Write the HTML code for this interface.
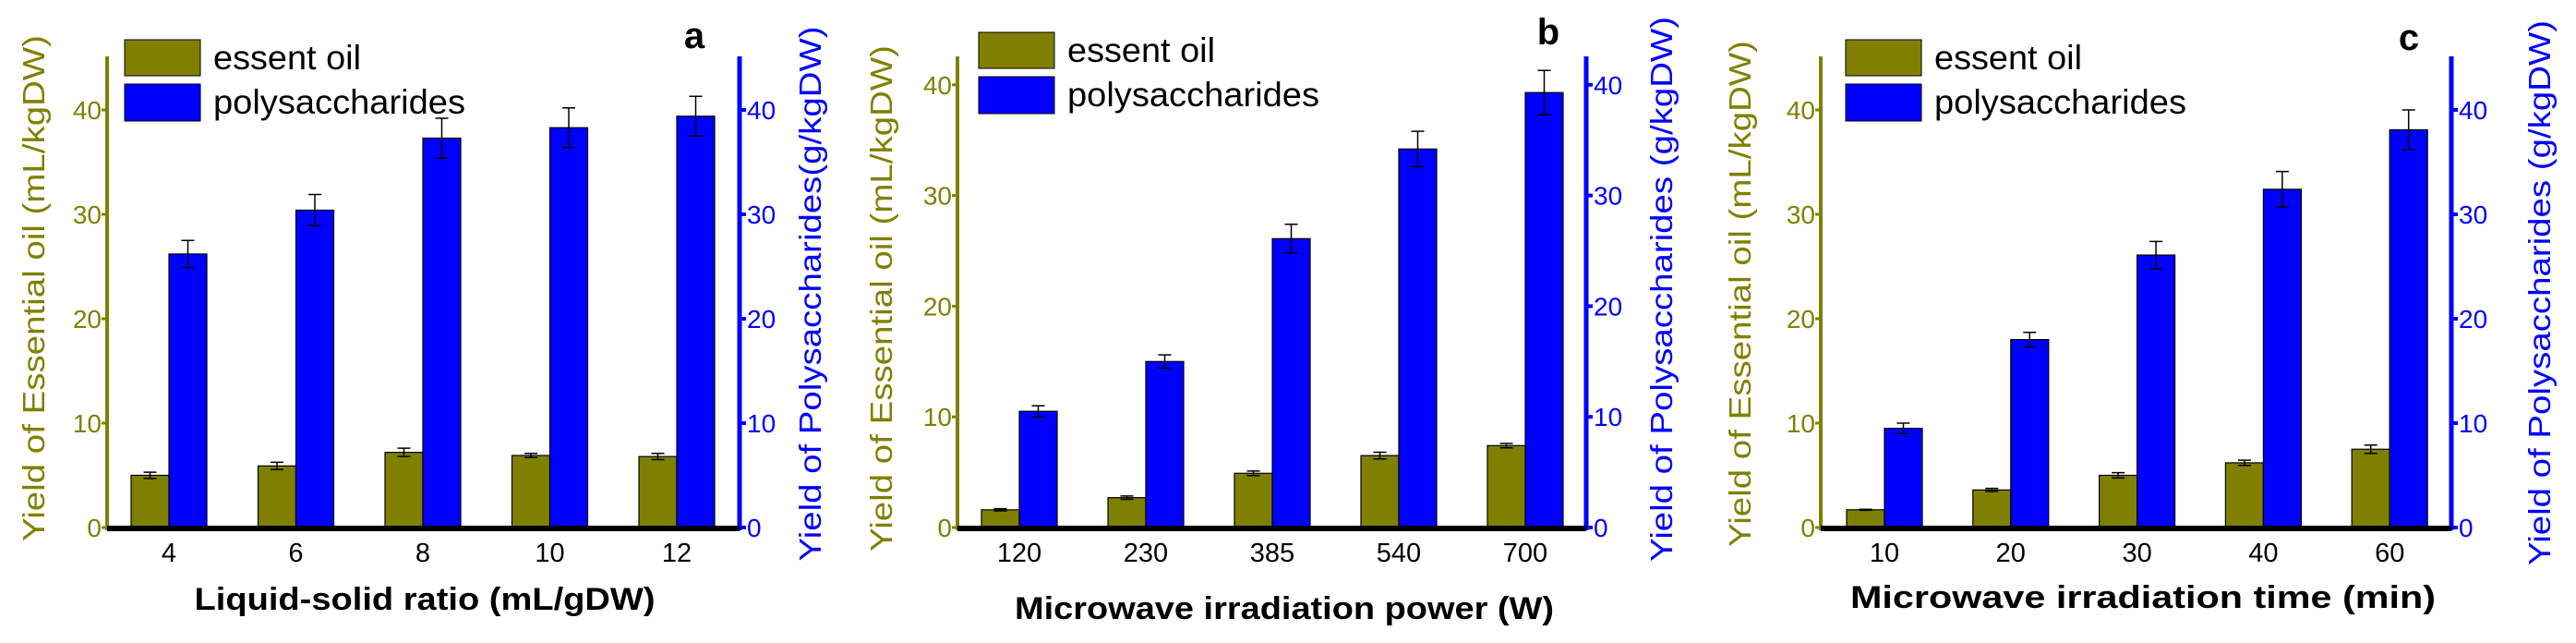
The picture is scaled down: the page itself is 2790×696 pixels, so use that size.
<!DOCTYPE html>
<html><head><meta charset="utf-8"><style>
html,body{margin:0;padding:0;background:#fff;}
svg{display:block;font-family:"Liberation Sans",Arial,sans-serif;}
</style></head><body>
<svg id="fig" width="2790" height="696" viewBox="0 0 2790 696" xmlns="http://www.w3.org/2000/svg"></svg>
<script>
const catsA=["4","6","8","10","12"];
const oilA=[5.0,5.9,7.2,6.9,6.8];
const oilErrA=[0.3,0.35,0.4,0.2,0.3];
const polyA=[26.2,30.4,37.3,38.3,39.4];
const polyErrA=[1.3,1.5,1.9,1.9,1.9];

const catsB=["120","230","385","540","700"];
const oilB=[1.6,2.7,4.9,6.5,7.4];
const oilErrB=[0.1,0.15,0.2,0.3,0.2];
const polyB=[10.5,15.0,26.1,34.2,39.3];
const polyErrB=[0.5,0.6,1.3,1.6,2.0];

const catsC=["10","20","30","40","60"];
const oilC=[1.7,3.6,5.0,6.2,7.5];
const oilErrC=[0.05,0.15,0.25,0.25,0.4];
const polyC=[9.5,18.0,26.1,32.4,38.1];
const polyErrC=[0.5,0.7,1.3,1.7,1.9];

const yTicks=[0,10,20,30,40];

const NS="http://www.w3.org/2000/svg";
const svg=document.getElementById("fig");
function mk(tag,attrs,parent){const e=document.createElementNS(NS,tag);for(const k in attrs)e.setAttribute(k,attrs[k]);(parent||svg).appendChild(e);return e;}

const OLIVE="#808000",BLUE="#0000ff";

function panel(p){
  const g=mk("g",{});
  
  
  const y=v=>p.zero-v*p.unit;
  // bars
  p.cats.forEach((c,i)=>{
    const cx=p.c0+i*p.step;
    const ob=mk("rect",{x:cx-p.bw,y:y(p.oil[i]),width:p.bw,height:p.oil[i]*p.unit,fill:OLIVE,stroke:"#000","stroke-width":1.2},g);
    
    
    const pb=mk("rect",{x:cx,y:y(p.poly[i]),width:p.bw,height:p.poly[i]*p.unit,fill:BLUE,stroke:"#000","stroke-width":1.2},g);
    
    
    [[cx-p.bw/2,p.oil[i],p.oilErr[i]],[cx+p.bw/2,p.poly[i],p.polyErr[i]]].forEach(([ex,v,e])=>{
      const eg=mk("path",{d:`M${ex},${y(v+e)}V${y(v-e)}M${ex-7},${y(v+e)}H${ex+7}M${ex-7},${y(v-e)}H${ex+7}`,stroke:"#000","stroke-width":1.5,fill:"none"},g);
      
      
    });
    const t=mk("text",{x:cx,y:608,"font-size":29,"text-anchor":"middle",fill:"#000"},g);
    t.textContent=c;
    
    
  });
  // axes
  const la=mk("line",{x1:p.lx,y1:61,x2:p.lx,y2:p.zero+3,stroke:OLIVE,"stroke-width":4},g);
  
  
  const ra=mk("line",{x1:p.rx,y1:61,x2:p.rx,y2:p.zero+3,stroke:BLUE,"stroke-width":5},g);
  
  
  const xa=mk("line",{x1:p.lx,y1:p.zero+1,x2:p.rx,y2:p.zero+1,stroke:"#000","stroke-width":6},g);
  
  
  yTicks.forEach(v=>{
    mk("line",{x1:p.lx-6,y1:y(v),x2:p.lx,y2:y(v),stroke:OLIVE,"stroke-width":3},g);
    mk("line",{x1:p.rx,y1:y(v),x2:p.rx+7,y2:y(v),stroke:BLUE,"stroke-width":4},g);
    const lt=mk("text",{x:p.lx-6,y:y(v)+10,"font-size":28,"text-anchor":"end",fill:OLIVE},g);
    lt.textContent=v;
    
    
    const rt=mk("text",{x:p.rx+8,y:y(v)+10,"font-size":28,"text-anchor":"start",fill:BLUE},g);
    rt.textContent=v;
    
    
  });
  // titles
  const lt=mk("text",{transform:`translate(${p.ltx},${p.lty}) rotate(-90)`,"font-size":33,"text-anchor":"middle",fill:OLIVE,textLength:p.ltl,lengthAdjust:"spacingAndGlyphs"},g);
  lt.textContent="Yield of Essential oil (mL/kgDW)";
  
  
  const rt=mk("text",{transform:`translate(${p.rtx},${p.rty}) rotate(-90)`,"font-size":33,"text-anchor":"middle",fill:BLUE,textLength:p.rtl,lengthAdjust:"spacingAndGlyphs"},g);
  rt.textContent=p.rtitle;
  
  
  const xt=mk("text",{x:p.xtx,y:p.xty,"font-size":34,"font-weight":"bold","text-anchor":"middle",fill:"#000",textLength:p.xtl,lengthAdjust:"spacingAndGlyphs"},g);
  xt.textContent=p.xtitle;
  
  
  const pl=mk("text",{x:p.plx,y:p.ply,"font-size":40,"font-weight":"bold","text-anchor":"middle",fill:"#000"},g);
  pl.textContent=p.id;
  
  
  // legend
  const lg=mk("g",{},g);
  
  
  mk("rect",{x:p.legx,y:p.legy,width:82,height:39,fill:OLIVE,stroke:"#000","stroke-width":1},lg);
  mk("rect",{x:p.legx,y:p.legy+48,width:82,height:40,fill:BLUE,stroke:"#000","stroke-width":1},lg);
  const l1=mk("text",{x:p.legx+96,y:p.legy+32,"font-size":37,fill:"#000",textLength:160,lengthAdjust:"spacingAndGlyphs"},lg);
  l1.textContent="essent oil";
  
  
  const l2=mk("text",{x:p.legx+96,y:p.legy+80,"font-size":37,fill:"#000",textLength:273,lengthAdjust:"spacingAndGlyphs"},lg);
  l2.textContent="polysaccharides";
  
  
}

panel({id:"a",cats:catsA,oil:oilA,oilErr:oilErrA,poly:polyA,polyErr:polyErrA,
  zero:571,unit:11.3,c0:183,step:137.5,bw:41,lx:116,rx:801,
  ltx:48,lty:312,ltl:548,rtx:889,rty:318,rtl:579,rtitle:"Yield of Polysaccharides(g/kgDW)",
  xtx:460,xty:660,xtl:499,xtitle:"Liquid-solid ratio (mL/gDW)",plx:752,ply:52,legx:135,legy:43});
panel({id:"b",cats:catsB,oil:oilB,oilErr:oilErrB,poly:polyB,polyErr:polyErrB,
  zero:571,unit:11.98,c0:1104,step:137,bw:41,lx:1037,rx:1718,
  ltx:966,lty:323,ltl:548,rtx:1811,rty:313,rtl:590,rtitle:"Yield of Polysaccharides (g/kgDW)",
  xtx:1391,xty:670,xtl:584,xtitle:"Microwave irradiation power (W)",plx:1677,ply:48,legx:1060,legy:35});
panel({id:"c",cats:catsC,oil:oilC,oilErr:oilErrC,poly:polyC,polyErr:polyErrC,
  zero:571,unit:11.3,c0:2041,step:136.8,bw:41,lx:1972,rx:2655,
  ltx:1896,lty:318,ltl:548,rtx:2762,rty:317,rtl:590,rtitle:"Yield of Polysaccharides (g/kgDW)",
  xtx:2321,xty:658,xtl:634,xtitle:"Microwave irradiation time (min)",plx:2609,ply:54,legx:1999,legy:43});
</script>
</body></html>
